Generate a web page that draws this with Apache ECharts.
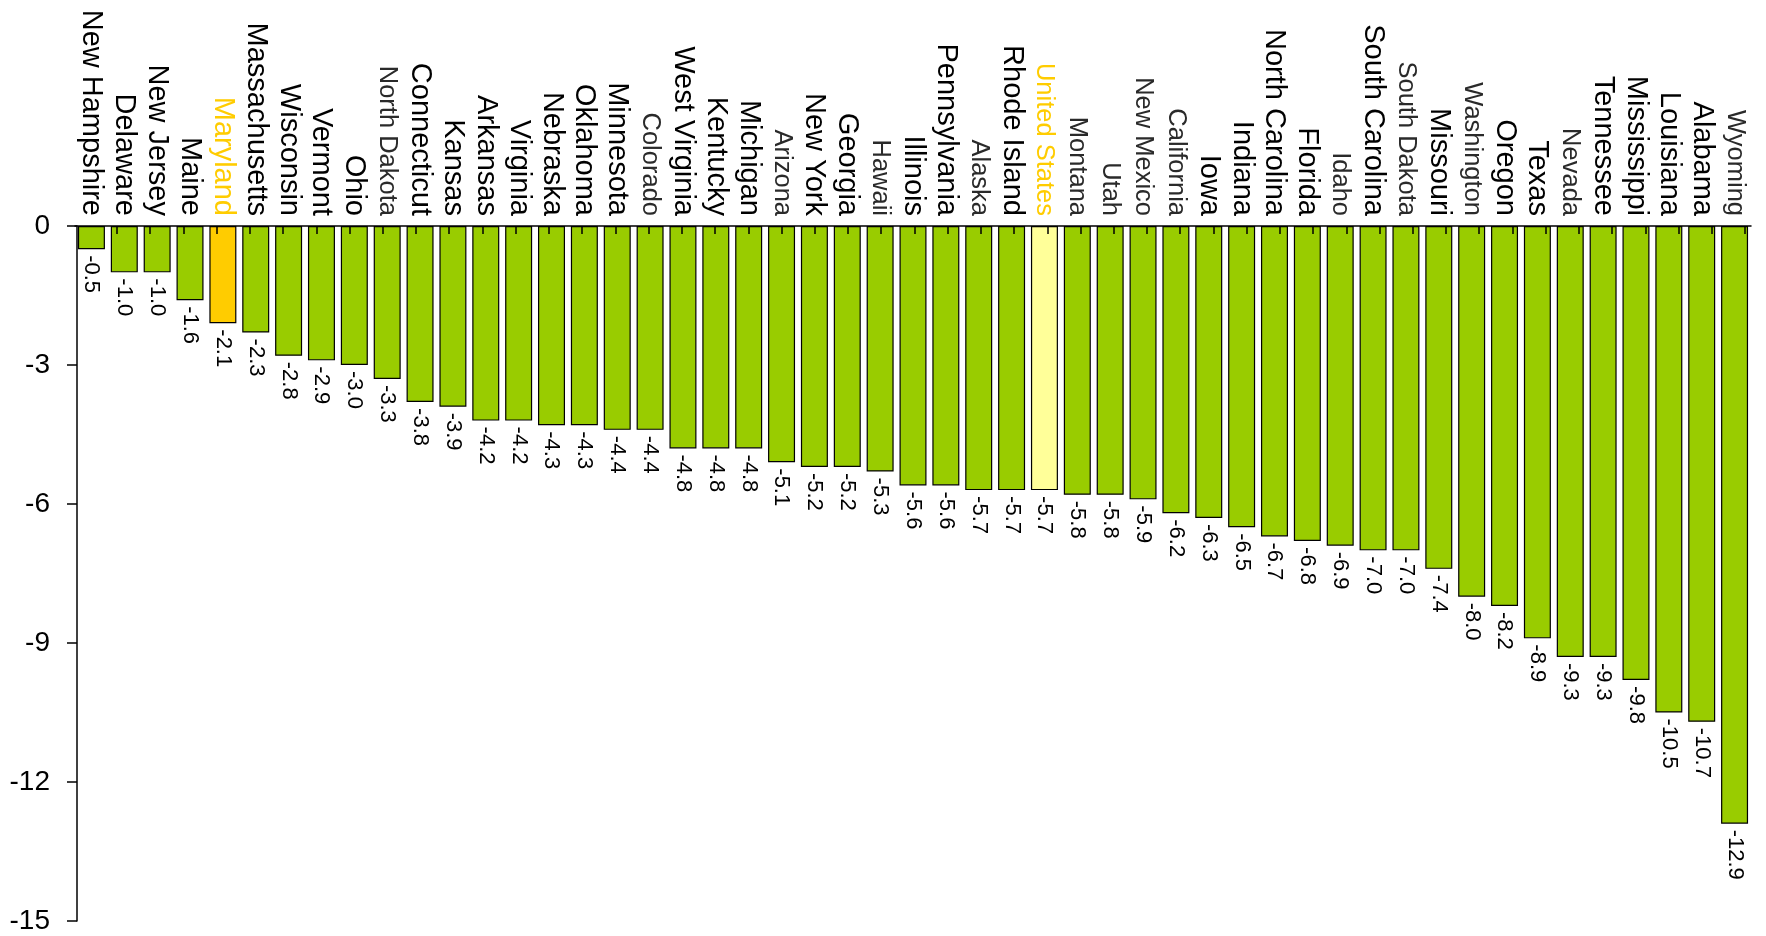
<!DOCTYPE html>
<html>
<head>
<meta charset="utf-8">
<script src="https://cdn.jsdelivr.net/npm/echarts@6/dist/echarts.min.js"></script>
<style>
  html, body { margin: 0; padding: 0; background: #fff; }
  #chart { width: 1766px; height: 936px; }
</style>
</head>
<body>
<div id="chart"></div>
<script>
const states = ['New Hampshire', 'Delaware', 'New Jersey', 'Maine', 'Maryland', 'Massachusetts', 'Wisconsin', 'Vermont', 'Ohio', 'North Dakota',
  'Connecticut', 'Kansas', 'Arkansas', 'Virginia', 'Nebraska', 'Oklahoma', 'Minnesota', 'Colorado', 'West Virginia', 'Kentucky',
  'Michigan', 'Arizona', 'New York', 'Georgia', 'Hawaii', 'Illinois', 'Pennsylvania', 'Alaska', 'Rhode Island', 'United States',
  'Montana', 'Utah', 'New Mexico', 'California', 'Iowa', 'Indiana', 'North Carolina', 'Florida', 'Idaho', 'South Carolina',
  'South Dakota', 'Missouri', 'Washington', 'Oregon', 'Texas', 'Nevada', 'Tennessee', 'Mississippi', 'Louisiana', 'Alabama', 'Wyoming']
const values = [-0.5, -1.0, -1.0, -1.6, -2.1, -2.3, -2.8, -2.9, -3.0, -3.3,
  -3.8, -3.9, -4.2, -4.2, -4.3, -4.3, -4.4, -4.4, -4.8, -4.8,
  -4.8, -5.1, -5.2, -5.2, -5.3, -5.6, -5.6, -5.7, -5.7, -5.7,
  -5.8, -5.8, -5.9, -6.2, -6.3, -6.5, -6.7, -6.8, -6.9, -7.0,
  -7.0, -7.4, -8.0, -8.2, -8.9, -9.3, -9.3, -9.8, -10.5, -10.7, -12.9]
const yTicks = [0, -3, -6, -9, -12, -15]

// labels drawn smaller / lighter in the original
const lightStates = ['North Dakota', 'Colorado', 'Arizona', 'Hawaii', 'Alaska', 'United States', 'Montana', 'Utah',
  'New Mexico', 'California', 'Idaho', 'South Dakota', 'Washington', 'Nevada', 'Wyoming']
const barColors = { 'Maryland': '#FFCC00', 'United States': '#FFFF99' }
const labelColors = { 'Maryland': '#FFCC00', 'United States': '#FFCC00' }

const font = 'Liberation Sans, Arial, sans-serif'

function labelStyle(s) {
  const light = lightStates.indexOf(s) >= 0
  return {
    fontSize: light ? 25.5 : 29,
    color: labelColors[s] || (light ? '#2a2a2a' : '#000'),
    fontFamily: font
  }
}

const option = {
  animation: false,
  backgroundColor: '#fff',
  grid: [
    { left: 75, top: 226, width: 1676, height: 695 },
    // thin strip along the zero line: its split lines are the little ticks over the bars
    { left: 117, top: 226, width: 1628, height: 8 }
  ],
  xAxis: [
    {
      type: 'category',
      gridIndex: 0,
      position: 'top',
      data: states.map(s => ({ value: s, textStyle: labelStyle(s) })),
      axisLine: { show: true, lineStyle: { color: '#000', width: 1.5 } },
      axisTick: { show: false },
      axisLabel: { interval: 0, rotate: -90, margin: 10, fontFamily: font, color: '#000' }
    },
    {
      type: 'value',
      gridIndex: 1,
      position: 'top',
      min: 1,
      max: states.length - 1,
      interval: 1,
      zlevel: 1,
      axisLine: { show: false },
      axisTick: { show: false },
      axisLabel: { show: false },
      splitLine: {
        show: true,
        showMinLine: true,
        showMaxLine: true,
        lineStyle: { color: '#000', width: 1.5, type: 'solid' }
      }
    }
  ],
  yAxis: [
    {
      type: 'value',
      gridIndex: 0,
      min: -15,
      max: 0,
      interval: 3,
      offset: -2,
      splitLine: { show: false },
      axisLine: { show: true, lineStyle: { color: '#000', width: 1.5 } },
      axisTick: { show: true, length: 10, lineStyle: { color: '#000', width: 1.5 } },
      axisLabel: {
        fontSize: 28,
        margin: 27,
        color: '#000',
        fontFamily: font,
        formatter: v => (yTicks.indexOf(v) >= 0 ? String(v) : '')
      }
    },
    { type: 'value', gridIndex: 1, min: -1, max: 0, show: false, splitLine: { show: false } }
  ],
  series: [
    {
      type: 'bar',
      xAxisIndex: 0,
      yAxisIndex: 0,
      data: values,
      barWidth: 27,
      itemStyle: {
        color: p => barColors[p.name] || '#99CC00',
        borderColor: '#000',
        borderWidth: 1.2
      },
      label: {
        show: true,
        position: 'bottom',
        distance: 6,
        rotate: -90,
        align: 'left',
        verticalAlign: 'middle',
        fontSize: 22,
        color: '#000',
        fontFamily: font,
        formatter: p => p.value.toFixed(1)
      }
    }
  ]
}

const chart = echarts.init(document.getElementById('chart'))
chart.setOption(option)
</script>
</body>
</html>
